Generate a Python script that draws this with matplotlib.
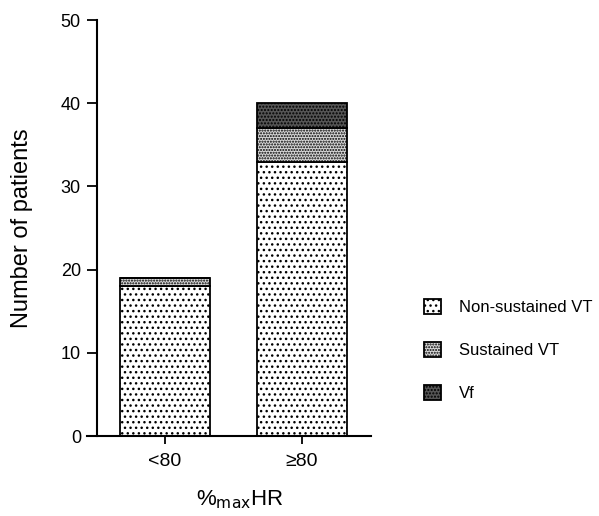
import numpy as np
import matplotlib
matplotlib.use("Agg")
import matplotlib.pyplot as plt

plt.rcParams['font.family'] = ['Liberation Sans', 'DejaVu Sans']
plt.rcParams['hatch.linewidth'] = 1.0

# data
groups = ['<80', '\u226580']
non_sustained = [18, 33]
sustained = [1, 4]
vf = [0, 3]
series_names = ['Non-sustained VT', 'Sustained VT', 'Vf']

fig = plt.figure(figsize=(5.99, 5.16), dpi=100)
ax = fig.add_axes([0.145, 0.155, 0.474, 0.806])

x = np.arange(len(groups))
w = 0.66
ns = np.array(non_sustained)
s = np.array(sustained)
v = np.array(vf)

b1 = ax.bar(x, ns, w, color='white', edgecolor='black', hatch='...', linewidth=1.3)
b2 = ax.bar(x, s, w, bottom=ns, color='#d8d8d8', edgecolor='black', hatch='......', linewidth=1.3)
b3 = ax.bar(x, v, w, bottom=ns + s, color='#555555', edgecolor='black', hatch='.....', linewidth=1.3)

ax.set_xlim(-0.569, 1.504)
ax.set_ylim(0, 50)
ax.set_yticks([0, 10, 20, 30, 40, 50])
ax.set_xticks(x)
ax.set_xticklabels(groups, fontsize=14)
ax.tick_params(axis='y', labelsize=13, length=7.5, width=1.3, direction='out', pad=4)
ax.tick_params(axis='x', length=6, width=1.3, direction='out', pad=6)

ax.spines['top'].set_visible(False)
ax.spines['right'].set_visible(False)
ax.spines['left'].set_position(('data', -0.496))
ax.spines['left'].set_linewidth(1.5)
ax.spines['bottom'].set_linewidth(1.5)

ax.set_ylabel('Number of patients', fontsize=17)
ax.yaxis.set_label_coords(-0.19, 0.50)
ax.set_xlabel('%$_{\\rm max}$HR', fontsize=16)
ax.xaxis.set_label_coords(0.539, -0.125)

fig.legend([b1, b2, b3], series_names, loc='center left',
           bbox_to_anchor=(0.683, 0.322), frameon=False, fontsize=12,
           handlelength=1.0, handleheight=1.0, labelspacing=1.6,
           handletextpad=1.1)

fig.savefig('out.png', dpi=100)
